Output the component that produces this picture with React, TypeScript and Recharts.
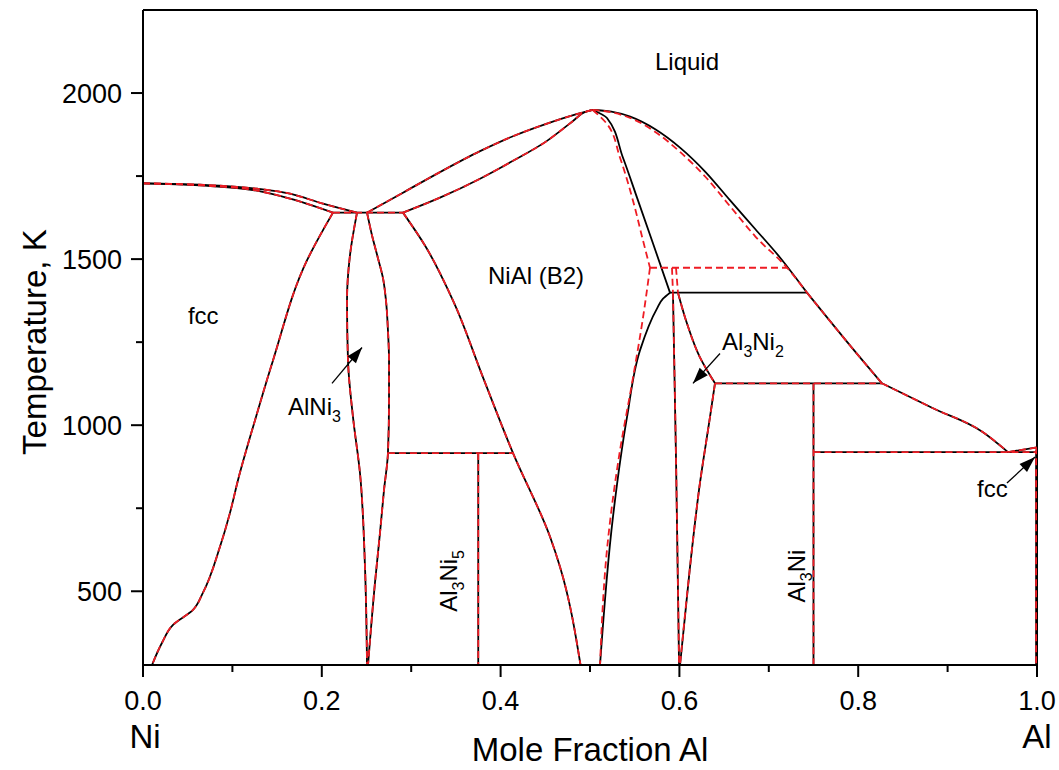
import React from 'react';
import { ComposedChart, Line, XAxis, YAxis, ReferenceLine, Scatter } from 'recharts';

type P = [number, number];

const FONT = "'Liberation Sans', Arial, sans-serif";
const BLACK = '#000000';
const RED = '#ee1c24';

// axis ticks
const xTicks = [0, 0.1, 0.2, 0.3, 0.4, 0.5, 0.6, 0.7, 0.8, 0.9, 1.0];
const yTicks = [500, 750, 1000, 1250, 1500, 1750, 2000];
const yMajor = [500, 1000, 1500, 2000];
const xEndLabels = ['Ni', 'Al'];
const xTitle = 'Mole Fraction Al';
const yTitle = 'Temperature, K';

// ---- boundaries common to both calculations ----
const fccLiquidus: P[] = [[0, 1728], [0.0638, 1724], [0.1275, 1712], [0.1644, 1697], [0.2013, 1667], [0.2394, 1640]];
const fccSolidus: P[] = [[0, 1728], [0.0638, 1722], [0.1275, 1706], [0.1644, 1682], [0.2125, 1640]];
const peritectic1640: P[] = [[0.2125, 1640], [0.2908, 1640]];
const fccSolvusNi: P[] = [[0.2125, 1640], [0.1834, 1496], [0.1454, 1195], [0.1253, 1015], [0.1063, 835], [0.0973, 736], [0.0861, 634], [0.0671, 496], [0.0559, 444], [0.0336, 399], [0.0213, 345], [0.0101, 278]];
const ni3AlLeft: P[] = [[0.2394, 1640], [0.2315, 1511], [0.2282, 1375], [0.2293, 1195], [0.2349, 1024], [0.2427, 856], [0.2483, 574], [0.2506, 278]];
const ni3AlRight: P[] = [[0.2506, 1640], [0.2562, 1571], [0.2629, 1502], [0.2685, 1442], [0.2718, 1375], [0.2740, 1285], [0.2752, 1195], [0.2752, 1075], [0.2740, 916], [0.2696, 805], [0.2651, 676], [0.2595, 526], [0.2517, 278]];
const al3Ni5Tie: P[] = [[0.2740, 916], [0.4139, 916]];
const al3Ni5Line: P[] = [[0.375, 916], [0.375, 278]];
const nialLeft: P[] = [[0.2908, 1640], [0.3154, 1541], [0.3468, 1375], [0.3803, 1144], [0.4139, 916], [0.4553, 664], [0.4664, 574], [0.4894, 278]];
const nialLiquidusLeft: P[] = [[0.2506, 1640], [0.2908, 1700], [0.3322, 1762], [0.3770, 1825], [0.4139, 1870], [0.4519, 1908], [0.4832, 1935], [0.503, 1949]];
const nialSolidusLeft: P[] = [[0.2908, 1640], [0.3322, 1685], [0.3770, 1742], [0.4139, 1796], [0.4519, 1856], [0.4810, 1916], [0.4922, 1940], [0.503, 1949]];
const liquidusMid: P[] = [[0.7427, 1399], [0.8020, 1204], [0.8266, 1126]];
const liquidusLow: P[] = [[0.8266, 1126], [0.8837, 1051], [0.9396, 979], [0.9676, 919]];
const alLiquidus: P[] = [[0.9676, 919], [1, 933]];
const alSolvus: P[] = [[1, 933], [0.999, 919], [0.999, 278]];
const tie1126: P[] = [[0.6398, 1126], [0.8266, 1126]];
const al3NiLine: P[] = [[0.75, 1126], [0.75, 278]];
const tie919: P[] = [[0.75, 919], [1, 919]];
const al3Ni2RightUpper: P[] = [[0.5984, 1399], [0.6085, 1306], [0.6230, 1204], [0.6398, 1126]];
const al3Ni2RightLower: P[] = [[0.6398, 1126], [0.6342, 1024], [0.6230, 826], [0.6119, 574], [0.6007, 278]];
const al3Ni2Left: P[] = [[0.5928, 1399], [0.5962, 901], [0.5996, 278]];

// ---- black (solid) calculation only ----
const liquidusRightBlack: P[] = [[0.503, 1949], [0.524, 1944], [0.545, 1929], [0.573, 1891], [0.601, 1835], [0.629, 1763], [0.657, 1676], [0.685, 1590], [0.7125, 1505], [0.7427, 1399]];
const nialRightBlack: P[] = [[0.503, 1949], [0.519, 1925], [0.5369, 1805], [0.5526, 1685], [0.5705, 1547], [0.5895, 1399]];
const tie1400Black: P[] = [[0.5895, 1399], [0.7427, 1399]];
const nialSolvusBlack: P[] = [[0.5895, 1399], [0.5817, 1381], [0.5749, 1351], [0.5559, 1225], [0.5414, 1024], [0.5257, 724], [0.5112, 278]];

// ---- red (dashed) calculation only ----
const liquidusRightRed: P[] = [[0.503, 1949], [0.524, 1942], [0.545, 1925], [0.573, 1883], [0.601, 1822], [0.629, 1748], [0.657, 1658], [0.685, 1568], [0.7204, 1474], [0.7427, 1399]];
const nialRightRed: P[] = [[0.503, 1949], [0.519, 1907], [0.5336, 1805], [0.5481, 1676], [0.5593, 1556], [0.5671, 1474]];
const tie1475Red: P[] = [[0.5671, 1474], [0.7204, 1474]];
const nialSolvusRed: P[] = [[0.5671, 1474], [0.5593, 1324], [0.5470, 1126], [0.5336, 925], [0.5190, 625], [0.5112, 278]];
const al3Ni2LeftRed: P[] = [[0.5917, 1474], [0.5928, 1399]];
const al3Ni2RightRed: P[] = [[0.5962, 1474], [0.5984, 1399]];

// ---- annotation arrows (start -> tip) ----
const arrowAlNi3: P[] = [[0.2114, 1126], [0.2450, 1234]];
const arrowAl3Ni2: P[] = [[0.6454, 1216], [0.6152, 1126]];
const arrowFcc: P[] = [[0.9664, 826], [0.9978, 904]];

// ---- phase labels ----
const phaseLabels = [
  { x: 0.5727, t: 2069, rot: false, parts: [['Liquid', 0]] },
  { x: 0.3859, t: 1426, rot: false, parts: [['NiAl (B2)', 0]] },
  { x: 0.0503, t: 1306, rot: false, parts: [['fcc', 0]] },
  { x: 0.1622, t: 1030, rot: false, parts: [['AlNi', 0], ['3', 1]] },
  { x: 0.6477, t: 1225, rot: false, parts: [['Al', 0], ['3', 1], ['Ni', 0], ['2', 1]] },
  { x: 0.9329, t: 784, rot: false, parts: [['fcc', 0]] },
  { x: 0.3512, t: 438, rot: true, parts: [['Al', 0], ['3', 1], ['Ni', 0], ['5', 1]] },
  { x: 0.7405, t: 466, rot: true, parts: [['Al', 0], ['3', 1], ['Ni', 0]] },
];

type Curve = 'linear' | 'monotoneX' | 'monotoneY';
const sharedSeries: [P[], Curve][] = [
  [fccLiquidus, 'monotoneX'], [fccSolidus, 'monotoneX'], [peritectic1640, 'linear'], [fccSolvusNi, 'monotoneY'],
  [ni3AlLeft, 'monotoneY'], [ni3AlRight, 'monotoneY'], [al3Ni5Tie, 'linear'], [al3Ni5Line, 'linear'],
  [nialLeft, 'monotoneY'], [nialLiquidusLeft, 'monotoneX'], [nialSolidusLeft, 'monotoneX'],
  [liquidusMid, 'monotoneX'], [liquidusLow, 'monotoneX'], [alLiquidus, 'linear'], [alSolvus, 'linear'],
  [tie1126, 'linear'], [al3NiLine, 'linear'], [tie919, 'linear'],
  [al3Ni2RightUpper, 'monotoneY'], [al3Ni2RightLower, 'monotoneY'], [al3Ni2Left, 'monotoneY'],
];
const blackSeries: [P[], Curve][] = [
  [liquidusRightBlack, 'monotoneX'], [nialRightBlack, 'monotoneY'], [tie1400Black, 'linear'], [nialSolvusBlack, 'monotoneY'],
];
const redSeries: [P[], Curve][] = [
  [liquidusRightRed, 'monotoneX'], [nialRightRed, 'monotoneY'], [tie1475Red, 'linear'], [nialSolvusRed, 'monotoneY'],
  [al3Ni2LeftRed, 'linear'], [al3Ni2RightRed, 'linear'],
];
const arrows: P[][] = [arrowAlNi3, arrowAl3Ni2, arrowFcc];

const toPts = (a: P[]) => a.map(([x, t]) => ({ x, t }));

const XTick = (props: any) => {
  const { x, y, payload } = props;
  const v = payload.value as number;
  const i = Math.round(v * 10);
  const major = i % 2 === 0;
  return (
    <g>
      <line x1={x} x2={x} y1={y} y2={y + (major ? 12 : 7)} stroke={BLACK} strokeWidth={2} />
      {major && (
        <text x={x} y={y + 45} textAnchor="middle" fontSize={27} fontFamily={FONT} fill={BLACK}>{v.toFixed(1)}</text>
      )}
      {i === 0 && <text x={x + 2} y={y + 83} textAnchor="middle" fontSize={33} fontFamily={FONT} fill={BLACK}>{xEndLabels[0]}</text>}
      {i === 10 && <text x={x} y={y + 83} textAnchor="middle" fontSize={33} fontFamily={FONT} fill={BLACK}>{xEndLabels[1]}</text>}
      {i === 5 && <text x={x} y={y + 96} textAnchor="middle" fontSize={33} fontFamily={FONT} fill={BLACK}>{xTitle}</text>}
    </g>
  );
};

const YTick = (props: any) => {
  const { x, y, payload } = props;
  const v = payload.value as number;
  const major = yMajor.includes(v);
  return (
    <g>
      <line x1={x - (major ? 12 : 7)} x2={x} y1={y} y2={y} stroke={BLACK} strokeWidth={2} />
      {major && (
        <text x={x - 21} y={y + 9.5} textAnchor="end" fontSize={27} fontFamily={FONT} fill={BLACK}>{v}</text>
      )}
      {v === 1250 && (
        <text x={35} y={y} transform={`rotate(-90 35 ${y})`} textAnchor="middle" dominantBaseline="central" fontSize={33} fontFamily={FONT} fill={BLACK}>{yTitle}</text>
      )}
    </g>
  );
};

const ArrowHead = (props: any) => {
  const { cx, cy, index, points } = props;
  if (index !== 1 || cx == null || !points || points.length < 2) return <g key={`ah-${index}`} />;
  const dx = points[1].x - points[0].x;
  const dy = points[1].y - points[0].y;
  const ang = (Math.atan2(dy, dx) * 180) / Math.PI;
  return (
    <polygon key={`ah-${index}`} points="0,0 -16,-5.5 -16,5.5" transform={`translate(${cx},${cy}) rotate(${ang})`} fill={BLACK} />
  );
};

const LabelShape = (props: any) => {
  const { cx, cy, payload } = props;
  const parts = payload.parts as [string, number][];
  return (
    <text x={cx} y={cy} fontSize={24} fontFamily={FONT} fill={BLACK} transform={payload.rot ? `rotate(-90 ${cx} ${cy})` : undefined}>
      {parts.map(([s, sub], i) => {
        const prev = i > 0 ? parts[i - 1][1] : 0;
        return (
          <tspan key={i} dy={(sub - prev) * 7} fontSize={sub ? 16 : 24}>{s}</tspan>
        );
      })}
    </text>
  );
};

export default function App() {
  return (
    <div style={{ position: 'absolute', left: 0, top: 0, width: 1059, height: 770, background: '#fff' }}>
      <ComposedChart width={1059} height={770} margin={{ top: 10, right: 22, bottom: 0, left: 0 }}>
        <XAxis type="number" dataKey="x" domain={[0, 1]} ticks={xTicks} interval={0} height={105}
          tickSize={0} tickMargin={0} tick={<XTick />} tickLine={false} allowDataOverflow
          axisLine={{ stroke: BLACK, strokeWidth: 2 }} />
        <YAxis type="number" dataKey="t" domain={[278, 2250]} ticks={yTicks} interval={0} width={143}
          tickSize={0} tickMargin={0} tick={<YTick />} tickLine={false} allowDataOverflow
          axisLine={{ stroke: BLACK, strokeWidth: 2 }} />
        <ReferenceLine y={2250} stroke={BLACK} strokeWidth={2} />
        <ReferenceLine x={1} stroke={BLACK} strokeWidth={2} />
        {[...sharedSeries, ...blackSeries].map(([d, c], i) => (
          <Line key={`b${i}`} data={toPts(d)} dataKey="t" type={c} stroke={BLACK} strokeWidth={1.8}
            dot={false} activeDot={false} isAnimationActive={false} legendType="none" />
        ))}
        {[...sharedSeries, ...redSeries].map(([d, c], i) => (
          <Line key={`r${i}`} data={toPts(d)} dataKey="t" type={c} stroke={RED} strokeWidth={1.8}
            strokeDasharray="7 4" dot={false} activeDot={false} isAnimationActive={false} legendType="none" />
        ))}
        {arrows.map((d, i) => (
          <Line key={`a${i}`} data={toPts(d)} dataKey="t" type="linear" stroke={BLACK} strokeWidth={1.3}
            dot={ArrowHead} activeDot={false} isAnimationActive={false} legendType="none" />
        ))}
        <Scatter data={phaseLabels} shape={<LabelShape />} isAnimationActive={false} legendType="none" />
      </ComposedChart>
    </div>
  );
}
